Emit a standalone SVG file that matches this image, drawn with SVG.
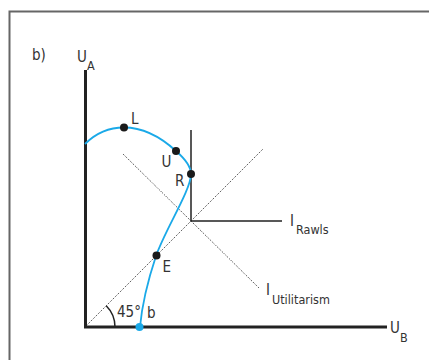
<svg xmlns="http://www.w3.org/2000/svg" width="429" height="360" viewBox="0 0 429 360">
<style>
.t{font-family:"Liberation Sans Narrow","DejaVu Sans Condensed","Liberation Sans",sans-serif;font-size:15px;fill:#333}
.s{font-size:12.5px}
.axis{stroke:#222;stroke-width:3;fill:none}
.dot{stroke:#222;stroke-width:1;stroke-dasharray:1 1.4;fill:none}
.ind{stroke:#222;stroke-width:1.5;fill:none}
.pt{fill:#1a1a1a}
</style>
<rect width="429" height="360" fill="#fff"/>
<path d="M9.5 360 V11.5 H429" fill="none" stroke="#666" stroke-width="2"/>
<text class="t" x="32" y="60">b)</text>
<g id="axes">
<path class="axis" d="M85.5 70 V327 H387"/>
<text class="t" x="77" y="62">U<tspan class="s" dx="0" dy="8">A</tspan></text>
<text class="t" x="390" y="333">U<tspan class="s" dy="9">B</tspan></text>
</g>
<g id="connectors">
<path class="dot" d="M86 326 L263 149"/>
<path class="dot" d="M123 154 L259 288"/>
<path class="ind" d="M191 130 V221 H282"/>
<path class="ind" d="M115 327 A30 30 0 0 0 106.2 305.8"/>
</g>
<g id="curve">
<path d="M85 144 C97 132 112 127.5 124 127.5 C145 127.5 164 140 176 151 C184 158 191 166 191 174 C191 190 165 230 156 256 C149 277 142 305 140 327" fill="none" stroke="#1aa9e8" stroke-width="1.8"/>
</g>
<g id="node-L"><circle class="pt" cx="124" cy="127.5" r="4"/><text class="t" x="131" y="124">L</text></g>
<g id="node-U"><circle class="pt" cx="176" cy="151" r="4"/><text class="t" x="161.5" y="167">U</text></g>
<g id="node-R"><circle class="pt" cx="191" cy="174" r="4"/><text class="t" x="175" y="186">R</text></g>
<g id="node-E"><circle class="pt" cx="156.5" cy="255.5" r="4"/><text class="t" x="162.5" y="272">E</text></g>
<g id="node-b"><circle cx="139.5" cy="327" r="4" fill="#1aa9e8"/><text class="t" x="147" y="318">b</text></g>
<text class="t" x="117" y="317">45°</text>
<g id="I-Rawls"><text class="t" x="290" y="226">I<tspan class="s" dx="2" dy="8">Rawls</tspan></text></g>
<g id="I-Util"><text class="t" x="266" y="295">I<tspan class="s" dx="2" dy="9">Utilitarism</tspan></text></g>
</svg>
